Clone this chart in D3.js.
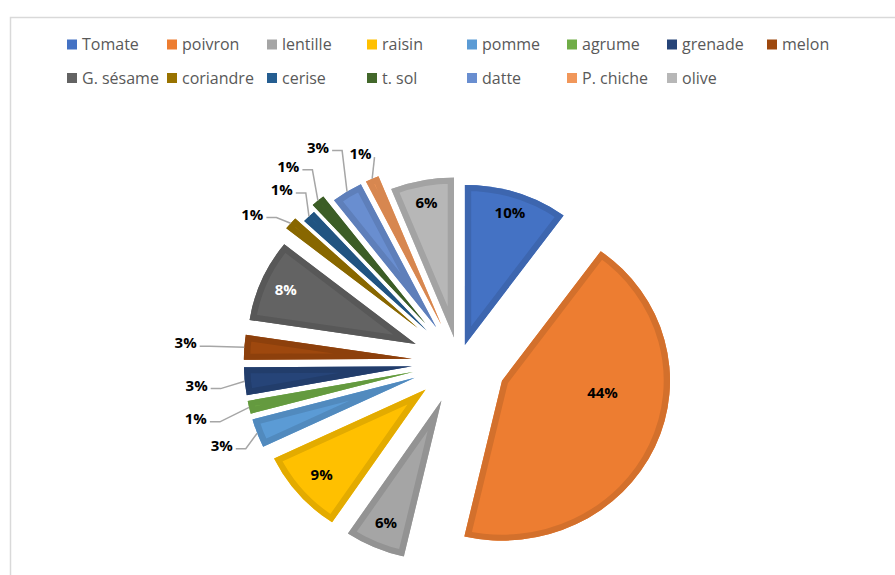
<!DOCTYPE html>
<html>
<head>
<meta charset="utf-8">
<script src="https://cdn.jsdelivr.net/npm/d3@7"></script>
<style>
  html, body { margin: 0; padding: 0; background: #fff; }
  svg { display: block; }
</style>
</head>
<body>
<svg id="chart" width="895" height="575"></svg>
<script>
// Crop shares (percent of total)
const categories = ["Tomate", "poivron", "lentille", "raisin", "pomme", "agrume", "grenade", "melon",
                    "G. sésame", "coriandre", "cerise", "t. sol", "datte", "P. chiche", "olive"];
const shares = [10.0, 43.6, 5.8, 8.5, 2.9, 1.3, 2.8, 2.5, 8.3, 1.3, 1.3, 1.3, 3.0, 1.3, 6.1];
const colors = ["#4472C4", "#ED7D31", "#A5A5A5", "#FFC000", "#5B9BD5", "#70AD47", "#264478", "#9E480E",
                "#636363", "#997300", "#255E91", "#43682B", "#698ED0", "#F1975A", "#B7B7B7"];

// Layout settings: slice explosion (px), label distance from pie centre (px), label turn (deg)
const explode   = [18, 45, 42, 42, 45, 45, 45, 45, 45, 52, 44, 50, 41, 41, 25];
const labelR    = [157, 140, 175, 173, 241, 257, 251, 261, 180, 246, 241, 254, 253, 228, 162];
const labelTurn = [0, -12, 0, 0, 0, 0, 0, 0, 0, -4, 0, 0, 0, 0, 0];
const outsideLabel = [false, false, false, false, true, true, true, true, false, true, true, true, true, true, false];

const W = 895, H = 575;
const cx = 459, cy = 362, R = 160, band = 6;
const sx = 1.05; // horizontal stretch of the plot area

const svg = d3.select("#chart");

// chart area frame
svg.append("path")
  .attr("d", `M10.5,${H} V17.5 H${W}`)
  .attr("fill", "none")
  .attr("stroke", "#D9D9D9")
  .attr("stroke-width", 1.5);

// legend
const legendCols = 8;
const legend = svg.append("g").attr("class", "legend");
categories.forEach((name, i) => {
  const col = i % legendCols, row = Math.floor(i / legendCols);
  const x = 67 + col * 100, y = 44.5 + row * 33.5;
  const g = legend.append("g").attr("transform", `translate(${x},${y})`);
  g.append("rect").attr("x", 0).attr("y", -5).attr("width", 10).attr("height", 10).attr("fill", colors[i]);
  g.append("text").attr("x", 15).attr("y", 0).attr("dy", "0.35em")
    .attr("font-family", "'Open Sans', sans-serif").attr("font-size", 16)
    .attr("fill", "#595959").text(name);
});

// pie
const pie = d3.pie().sort(null).value(d => d).startAngle(0).endAngle(2 * Math.PI);
const arcs = pie(shares);
const total = d3.sum(shares);
const arc = d3.arc().innerRadius(0).outerRadius(R);
const pct = d3.format(".0%");

const defs = svg.append("defs");
const plot = svg.append("g").attr("transform", `translate(${cx},${cy}) scale(${sx},1)`);

const dirOf = a => [Math.sin(a), -Math.cos(a)];
// from unstretched pie coordinates to screen
const toScreen = (x, y) => [cx + sx * x, cy + y];

arcs.forEach((a, i) => {
  const mid = (a.startAngle + a.endAngle) / 2;
  const [dx, dy] = dirOf(mid);
  const d = arc(a);
  defs.append("clipPath").attr("id", "clip" + i)
    .append("path").attr("d", d);
  const g = plot.append("g").attr("transform", `translate(${explode[i] * dx},${explode[i] * dy})`);
  g.append("path").attr("d", d).attr("fill", colors[i]);
  g.append("path").attr("d", d)
    .attr("fill", "none")
    .attr("stroke", d3.color(colors[i]).darker(0.32))
    .attr("stroke-width", band * 2)
    .attr("stroke-linejoin", "miter")
    .attr("clip-path", `url(#clip${i})`);
});

// data labels and leader lines
const labels = svg.append("g").attr("class", "labels");
arcs.forEach((a, i) => {
  const mid = (a.startAngle + a.endAngle) / 2;
  const [dx, dy] = dirOf(mid);
  const la = mid + labelTurn[i] * Math.PI / 180;
  const [lx, ly] = dirOf(la);
  const [x, y] = toScreen(labelR[i] * lx, labelR[i] * ly);
  const t = labels.append("text")
    .attr("x", x).attr("y", y).attr("dy", "0.35em")
    .attr("text-anchor", "middle")
    .attr("font-family", "'Open Sans', sans-serif")
    .attr("font-weight", "bold").attr("font-size", 15)
    .attr("fill", i === 8 ? "#FFFFFF" : "#000000")
    .text(pct(a.value / total));
  if (outsideLabel[i]) {
    const w = t.node().getComputedTextLength();
    const [ex, ey] = toScreen((explode[i] + R) * dx, (explode[i] + R) * dy);
    const x0 = x + w / 2 + 3, y0 = y + 3;
    const x1 = Math.max(x0, Math.min(x0 + 10, ex));
    labels.insert("path", "text")
      .attr("d", `M${x0},${y0} H${x1} L${ex},${ey}`)
      .attr("fill", "none")
      .attr("stroke", "#A6A6A6")
      .attr("stroke-width", 1.5);
  }
});
</script>
</body>
</html>
